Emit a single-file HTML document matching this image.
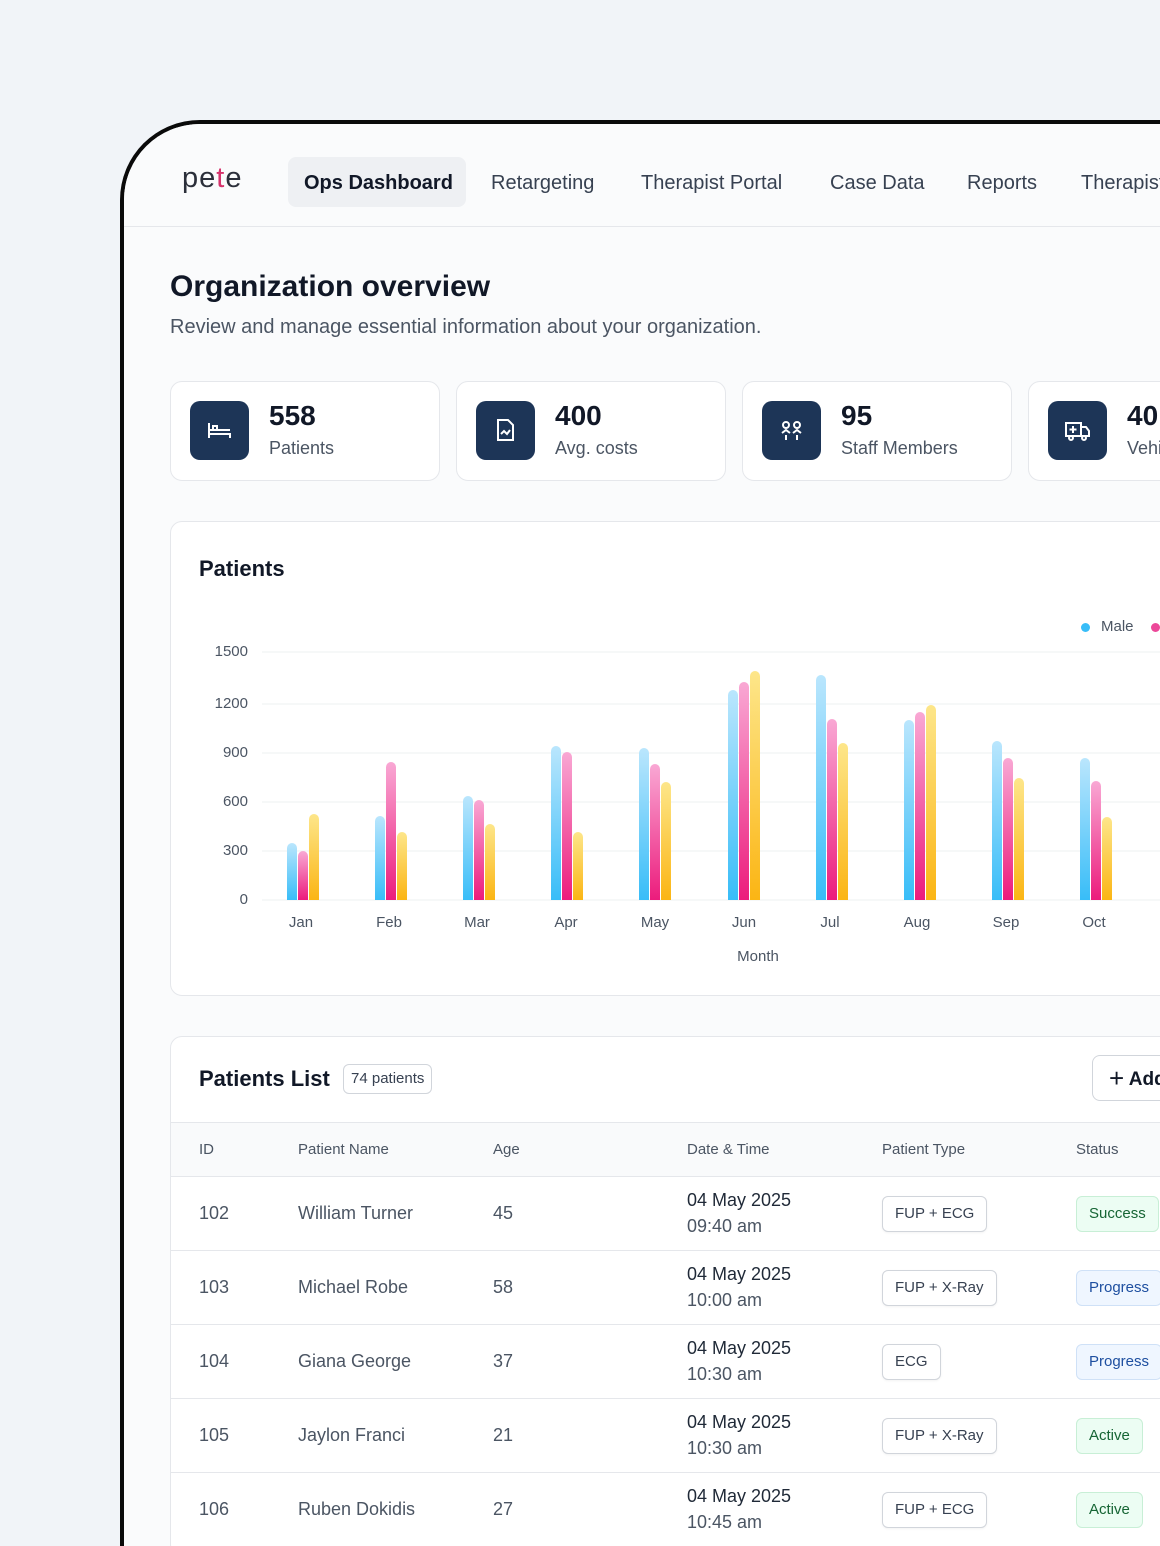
<!DOCTYPE html>
<html style="width:1160px;height:1546px;overflow:hidden"><head><meta charset="utf-8"><style>
*{box-sizing:border-box;margin:0;padding:0}
body{width:1160px;height:1546px;overflow:hidden;background:#f1f4f8;font-family:"Liberation Sans",sans-serif;color:#1f2937;position:relative}
.frame{position:absolute;left:120px;top:120px;width:1040px;height:1426px;border:4px solid #0a0a0a;border-right:none;border-bottom:none;border-radius:80px 0 0 0;background:#fafbfc;overflow:hidden}
.abs{position:absolute}
.nav{position:absolute;left:0;top:0;width:1040px;height:103px;border-bottom:1px solid #e5e7eb;background:#fafbfc}
.nav span{position:absolute;top:48px;font-size:20px;color:#374151}
.card{position:absolute;background:#fff;border:1px solid #e5e7eb;border-radius:12px}
.ic{position:absolute;left:19px;top:19px;width:59px;height:59px;border-radius:10px;background:#1d3557}
.ic svg{position:absolute;left:16px;top:16px}
.num{position:absolute;left:98px;top:18px;font-size:28px;font-weight:bold;color:#111827}
.lbl{position:absolute;left:98px;top:56px;font-size:18px;color:#4b5563}
.yl{position:absolute;width:40px;text-align:right;font-size:15px;color:#4b5563}
.xl{position:absolute;width:60px;text-align:center;font-size:15px;color:#4b5563}
.td{position:absolute;font-size:18px;color:#4b5563}
.tag{position:absolute;border:1px solid #d1d5db;border-radius:6px;background:#fff;font-size:15px;color:#374151;height:36px;line-height:34px;padding:0 12px;box-shadow:0 1px 2px rgba(0,0,0,.05)}
.st{position:absolute;border-radius:6px;font-size:15px;height:36px;line-height:34px;padding:0 12px}
.s{background:#ecfdf3;border:1px solid #c8efd6;color:#166534}
.p{background:#eff6ff;border:1px solid #cfe1f7;color:#1e4fa0}
</style></head><body>
<div class="frame">
 <div class="nav">
  <div class="abs" style="left:58px;top:38px;font-size:29px;color:#2b2f3a;letter-spacing:1px">pe<span style="position:static;font-size:29px;color:#d6336c">t</span>e</div>
  <div class="abs" style="left:164px;top:33px;width:178px;height:50px;background:#eef0f3;border-radius:8px"></div>
  <span style="left:180px;font-weight:bold;color:#111827">Ops Dashboard</span>
  <span style="left:367px">Retargeting</span>
  <span style="left:517px">Therapist Portal</span>
  <span style="left:706px">Case Data</span>
  <span style="left:843px">Reports</span>
  <span style="left:957px">Therapist</span>
 </div>
 <div class="abs" style="left:46px;top:146px;font-size:30px;font-weight:bold;color:#111827">Organization overview</div>
 <div class="abs" style="left:46px;top:192px;font-size:20px;color:#4b5563">Review and manage essential information about your organization.</div>

 <div class="card" style="left:46px;top:257px;width:270px;height:100px"><div class="ic"><svg width="27" height="27" fill="none" stroke="#fff" stroke-width="2"><path d="M3 6v15M3 17h21v4M3 13h21M7 9h4v4H7z"/></svg></div><div class="num">558</div><div class="lbl">Patients</div></div>
 <div class="card" style="left:332px;top:257px;width:270px;height:100px"><div class="ic"><svg width="27" height="27" fill="none" stroke="#fff" stroke-width="2"><path d="M6 3h10l5 5v15H6zM9 17l3-3 3 3 3-4"/></svg></div><div class="num">400</div><div class="lbl">Avg. costs</div></div>
 <div class="card" style="left:618px;top:257px;width:270px;height:100px"><div class="ic"><svg width="27" height="27" fill="none" stroke="#fff" stroke-width="2"><circle cx="8" cy="8" r="3"/><circle cx="19" cy="8" r="3"/><path d="M4 16l4-3 4 3M15 16l4-3 4 3M8 18v5M19 18v5"/></svg></div><div class="num">95</div><div class="lbl">Staff Members</div></div>
 <div class="card" style="left:904px;top:257px;width:270px;height:100px"><div class="ic"><svg width="27" height="27" fill="none" stroke="#fff" stroke-width="2"><path d="M2 6h15v13H2zM17 10h5l3 4v5h-8M9 9v7M5.5 12.5h7"/><circle cx="7" cy="21" r="2"/><circle cx="20" cy="21" r="2"/></svg></div><div class="num">40</div><div class="lbl">Vehicles</div></div>

 <div class="card" style="left:46px;top:397px;width:1200px;height:475px">
  <div class="abs" style="left:28px;top:34px;font-size:22px;font-weight:bold;color:#111827">Patients</div>
  <div class="abs" style="left:910px;top:101px;width:9px;height:9px;border-radius:50%;background:#38bdf8"></div>
  <div class="abs" style="left:930px;top:96px;font-size:15px;color:#4b5563">Male</div>
  <div class="abs" style="left:980px;top:101px;width:9px;height:9px;border-radius:50%;background:#ec4899"></div>
 </div>
 <svg class="abs" style="left:0;top:0" width="1040" height="900">
  <defs>
   <linearGradient id="b" x1="0" y1="0" x2="0" y2="1"><stop offset="0" stop-color="#bae6fd"/><stop offset="1" stop-color="#38bdf8"/></linearGradient>
   <linearGradient id="k" x1="0" y1="0" x2="0" y2="1"><stop offset="0" stop-color="#f9a8d4"/><stop offset="1" stop-color="#ec1c7c"/></linearGradient>
   <linearGradient id="y" x1="0" y1="0" x2="0" y2="1"><stop offset="0" stop-color="#fde68a"/><stop offset="1" stop-color="#fbb514"/></linearGradient>
  </defs>
  <g stroke="#eef0f2" stroke-width="1">
   <line x1="138" x2="1040" y1="528" y2="528"/><line x1="138" x2="1040" y1="580" y2="580"/><line x1="138" x2="1040" y1="629" y2="629"/><line x1="138" x2="1040" y1="678" y2="678"/><line x1="138" x2="1040" y1="727" y2="727"/><line x1="138" x2="1040" y1="776" y2="776"/>
  </g>
  <g id="bars"></g>
 </svg>
 <div class="yl" style="left:84px;top:519px">1500</div>
 <div class="yl" style="left:84px;top:571px">1200</div>
 <div class="yl" style="left:84px;top:620px">900</div>
 <div class="yl" style="left:84px;top:669px">600</div>
 <div class="yl" style="left:84px;top:718px">300</div>
 <div class="yl" style="left:84px;top:767px">0</div>
 <div class="xl" style="left:147px;top:790px">Jan</div>
 <div class="xl" style="left:235px;top:790px">Feb</div>
 <div class="xl" style="left:323px;top:790px">Mar</div>
 <div class="xl" style="left:412px;top:790px">Apr</div>
 <div class="xl" style="left:501px;top:790px">May</div>
 <div class="xl" style="left:590px;top:790px">Jun</div>
 <div class="xl" style="left:676px;top:790px">Jul</div>
 <div class="xl" style="left:763px;top:790px">Aug</div>
 <div class="xl" style="left:852px;top:790px">Sep</div>
 <div class="xl" style="left:940px;top:790px">Oct</div>
 <div class="xl" style="left:594px;top:824px;width:80px">Month</div>

 <div class="card" style="left:46px;top:912px;width:1200px;height:520px;overflow:hidden">
  <div class="abs" style="left:28px;top:29px;font-size:22px;font-weight:bold;color:#111827">Patients List</div>
  <div class="abs" style="left:172px;top:27px;height:30px;line-height:28px;padding:0 7px;border:1px solid #d1d5db;border-radius:6px;font-size:15px;color:#374151">74 patients</div>
  <div class="abs" style="left:921px;top:18px;width:120px;height:46px;border:1px solid #d1d5db;border-radius:8px;font-size:19px;line-height:44px;padding-left:16px;color:#111827;font-weight:bold"><span style="font-weight:normal;font-size:26px;vertical-align:-2px">+</span> Add</div>
  <div class="abs" style="left:0;top:85px;width:1200px;height:55px;background:#f9fafb;border-top:1px solid #e5e7eb;border-bottom:1px solid #e5e7eb"></div>
  <div class="td" style="left:28px;top:104px;font-size:15px">ID</div>
  <div class="td" style="left:127px;top:104px;font-size:15px">Patient Name</div>
  <div class="td" style="left:322px;top:104px;font-size:15px">Age</div>
  <div class="td" style="left:516px;top:104px;font-size:15px">Date &amp; Time</div>
  <div class="td" style="left:711px;top:104px;font-size:15px">Patient Type</div>
  <div class="td" style="left:905px;top:104px;font-size:15px">Status</div>
  <div id="rows"></div>
 </div>
</div>
<script>
var tops=[[843,851,814],[816,762,832],[796,800,824],[746,752,832],[748,764,782],[690,682,671],[675,719,743],[720,712,705],[741,758,778],[758,781,817]];
var cx=[303,391,479,567,655,744,832,920,1008,1096];var s='';var f=['b','k','y'];
tops.forEach(function(t,i){for(var j=0;j<3;j++){var x=cx[i]-16+j*11-124,y=t[j]-124,b=776;s+='<path d="M'+x+' '+b+'V'+(y+5)+'a5 5 0 0 1 10 0V'+b+'z" fill="url(#'+f[j]+')"/>';}});
document.getElementById('bars').innerHTML=s;
var R=[['102','William Turner','45','09:40 am','FUP + ECG','Success','s'],['103','Michael Robe','58','10:00 am','FUP + X-Ray','Progress','p'],['104','Giana George','37','10:30 am','ECG','Progress','p'],['105','Jaylon Franci','21','10:30 am','FUP + X-Ray','Active','s'],['106','Ruben Dokidis','27','10:45 am','FUP + ECG','Active','s']];
var h='';R.forEach(function(r,i){var t=140+i*74;h+='<div class="abs" style="left:0;top:'+(t+73)+'px;width:1200px;height:1px;background:#e5e7eb"></div>'+
'<div class="td" style="left:28px;top:'+(t+26)+'px">'+r[0]+'</div><div class="td" style="left:127px;top:'+(t+26)+'px">'+r[1]+'</div><div class="td" style="left:322px;top:'+(t+26)+'px">'+r[2]+'</div>'+
'<div class="td" style="left:516px;top:'+(t+13)+'px;color:#1f2937">04 May 2025</div><div class="td" style="left:516px;top:'+(t+39)+'px">'+r[3]+'</div>'+
'<div class="tag" style="left:711px;top:'+(t+19)+'px">'+r[4]+'</div><div class="st '+r[6]+'" style="left:905px;top:'+(t+19)+'px">'+r[5]+'</div>';});
document.getElementById('rows').innerHTML=h;
</script>
</body></html>
